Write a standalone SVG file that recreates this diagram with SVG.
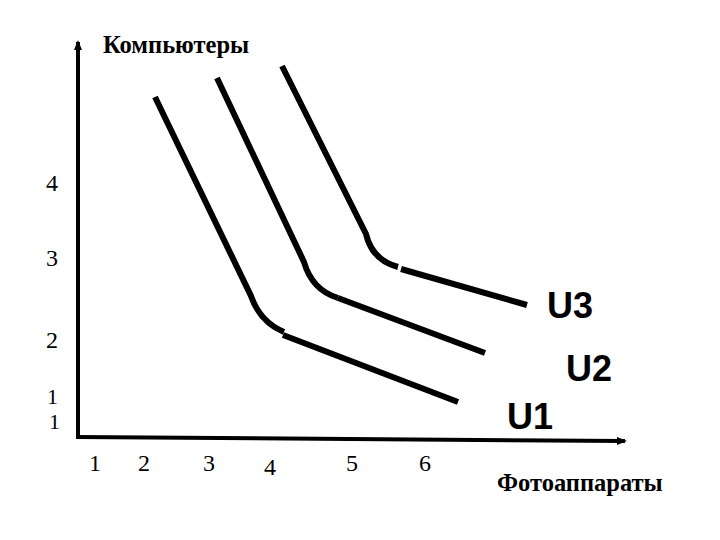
<svg xmlns="http://www.w3.org/2000/svg" width="720" height="540" viewBox="0 0 720 540">
<style>
.axis{stroke:#000;stroke-width:4;fill:none}
.curve{stroke:#000;stroke-width:6;fill:none;stroke-linecap:butt}
.num{font-family:"Liberation Serif",serif;font-size:24px;fill:#000}
.small{font-size:22px}
.title{font-family:"Liberation Serif",serif;font-size:24.5px;font-weight:bold;fill:#000}
.u{font-family:"Liberation Sans",sans-serif;font-size:36px;font-weight:bold;fill:#000}
</style>
<defs>
<marker id="ah" markerWidth="10" markerHeight="8" refX="8" refY="4" orient="auto" markerUnits="userSpaceOnUse">
<path d="M0,0 L10,4 L0,8 Z" fill="#000"/>
</marker>
</defs>
<rect width="720" height="540" fill="#fff"/>
<g id="connectors">
<line class="axis" x1="78" y1="438" x2="78" y2="42" marker-end="url(#ah)"/>
<line class="axis" x1="76" y1="437" x2="625" y2="441" marker-end="url(#ah)"/>
</g>
<g id="U1">
<path class="curve" d="M155,97 L251,296 Q260,322 284,332"/>
<path class="curve" d="M283,335 L458,402"/>
</g>
<g id="U2">
<path class="curve" d="M217,78 L304,262 Q312,290 338,298"/>
<path class="curve" d="M338,298 L485,353"/>
</g>
<g id="U3">
<path class="curve" d="M282,66 L366,234 Q372,260 398,267"/>
<path class="curve" d="M401,269 L527,305"/>
</g>
<g id="labels">
<text class="title" x="103" y="53">Компьютеры</text>
<text class="title" x="497" y="491">Фотоаппараты</text>
<text class="num" x="46" y="191">4</text>
<text class="num" x="46" y="266">3</text>
<text class="num" x="46" y="348">2</text>
<text class="num small" x="47" y="404">1</text>
<text class="num small" x="49" y="429">1</text>
<text class="num" x="89" y="471">1</text>
<text class="num" x="138" y="471">2</text>
<text class="num" x="203" y="471">3</text>
<text class="num" x="264" y="475">4</text>
<text class="num" x="346" y="471">5</text>
<text class="num" x="419" y="471">6</text>
<text class="u" x="547" y="318">U3</text>
<text class="u" x="566" y="381">U2</text>
<text class="u" x="507" y="429">U1</text>
</g>
</svg>
